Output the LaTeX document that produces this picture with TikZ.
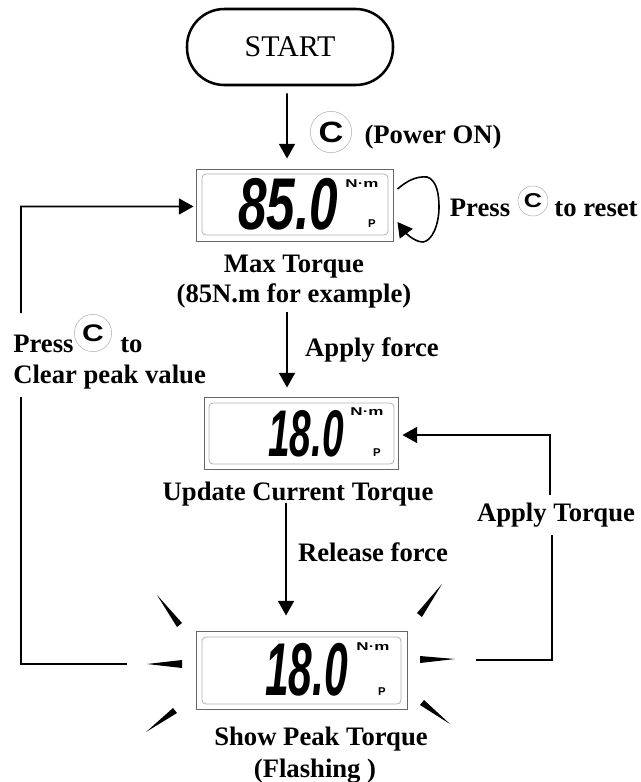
\documentclass[tikz,border=0pt]{standalone}
\usepackage{fontspec}
\setmainfont{Liberation Serif}
\newfontfamily\lcdfont{Liberation Sans}
\usetikzlibrary{arrows.meta}

\begin{document}
\begin{tikzpicture}[x=0.75pt, y=-0.75pt, >={Triangle[length=11pt, width=12pt]},
	every node/.style={inner sep=0pt},
	line/.style={line width=1.2pt},
	lab/.style={font=\bfseries\fontsize{20}{23}\selectfont, anchor=base},
	lcd/.style={draw=black!60, line width=0.7pt, fill=white},
	lcdin/.style={draw=black!30, line width=0.6pt, rounded corners=3pt},
	digits/.style={font=\lcdfont\bfseries\itshape\fontsize{55}{55}\selectfont},
	unit/.style={font=\lcdfont\bfseries\fontsize{8.5}{10}\selectfont},
	btn/.style={circle, draw=black!30, line width=0.4pt, fill=white},
	ray/.style={fill=black, draw=none}]
	\useasboundingbox (0,0) rectangle (640,782);
	% start
	\node[draw, line width=1.9pt, rounded corners=28pt, minimum width=154.5pt, minimum height=57pt, font=\fontsize{22.5}{26}\selectfont] (start) at (290,47) {START};
	% first display
	\node[lcd, minimum width=147.75pt, minimum height=54pt] (dispa) at (294.5,205) {};
	\draw[lcdin] (202,174) rectangle (388,235);
	\node[digits] (valuea) at (288,204.5) {\scalebox{0.7}[1]{85.0}};
	\node[unit] (unita) at (362,184) {\scalebox{1.5}[1]{N·m}};
	\node[unit] (pa) at (372,224) {P};
	% second display
	\node[lcd, minimum width=145.5pt, minimum height=54pt] (dispb) at (301,433) {};
	\draw[lcdin] (209,403) rectangle (394,464);
	\node[digits] (valueb) at (306,433.5) {\scalebox{0.53}[0.9]{18.0}};
	\node[unit] (unitb) at (367,412) {\scalebox{1.5}[1]{N·m}};
	\node[unit] (pb) at (377,453) {P};
	% third display
	\node[lcd, minimum width=158.25pt, minimum height=58.5pt] (dispc) at (301.5,670) {};
	\draw[lcdin] (202,637) rectangle (401,704);
	\node[digits] (valuec) at (306.5,670) {\scalebox{0.58}[1.02]{18.0}};
	\node[unit] (unitc) at (373,647) {\scalebox{1.5}[1]{N·m}};
	\node[unit] (pc) at (382,692) {P};
	% labels
	\node[lab] (maxlab) at (294,272) {Max Torque};
	\node[lab] (exlab) at (294,302) {(85N.m for example)};
	\node[lab] (updlab) at (298,500) {Update Current Torque};
	\node[lab] (peaklab) at (321,745) {Show Peak Torque};
	\node[lab] (flashlab) at (315,777) {(Flashing )};
	\node[lab] (forcea) at (372,356) {Apply force};
	\node[lab] (forceb) at (373,561) {Release force};
	\node[lab] (torquelab) at (556,521) {Apply Torque};
	\node[lab] (poweron) at (433,143) {(Power ON)};
	\node[btn, minimum size=31pt] (btna) at (331,132) {\lcdfont\bfseries\fontsize{22}{22}\selectfont\scalebox{1.17}[1]{C}};
	\node[lab] (pressa) at (480,216) {Press};
	\node[btn, minimum size=22.5pt] (btnb) at (533,201) {\lcdfont\bfseries\fontsize{15}{15}\selectfont\scalebox{1.25}[1]{C}};
	\node[lab] (reseta) at (596,216) {to reset};
	\node[lab, anchor=base west] (pressb) at (13,352) {Press};
	\node[lab, anchor=base west] (tolab) at (120,352) {to};
	\node[lab, anchor=base west] (clearlab) at (13,383) {Clear peak value};
	\node[btn, minimum size=28pt] (btnc) at (93,333) {\lcdfont\bfseries\fontsize{18}{18}\selectfont\scalebox{1.25}[1]{C}};
	% connectors
	\coordinate (cleft) at (127,664);
	\coordinate (cright) at (476,660);
	\coordinate (forcetop) at (287,312);
	\coordinate (releasetop) at (286,503);
	\coordinate (leftlow) at (21,397);
	\coordinate (lefthigh) at (21,313);
	\coordinate (rightlow) at (552,535);
	\coordinate (righthigh) at (550,495);
	\draw[line, ->] ([xshift=-2.25pt, yshift=-5.25pt]start.south) -- ([xshift=-5.6pt, yshift=7.5pt]dispa.north);
	\draw[line, ->] (forcetop) -- ([xshift=-10.5pt, yshift=6.75pt]dispb.north);
	\draw[line, ->] (releasetop) -- ([xshift=-11.6pt, yshift=11.25pt]dispc.north);
	\draw[line] (cleft) -- (21,664) -- (leftlow);
	\draw[line, ->] (lefthigh) -- (21,206.5) -- ([xshift=-1.5pt, yshift=-1.1pt]dispa.west);
	\draw[line] (cright) -- (552,660) -- (rightlow);
	\draw[line, ->] (righthigh) -- (550,435) -- ([xshift=3pt, yshift=-1.5pt]dispb.east);
	\draw[line, ->] ([xshift=3pt, yshift=12pt]dispa.east) .. controls (407,181) and (416,176) .. (427,177) .. controls (437,180) and (439,195) .. (439,207) .. controls (439,225) and (432,241) .. (423,242) .. controls (414,242) and (405,232) .. ([xshift=3pt, yshift=-12.75pt]dispa.east);
	% flashing rays
	\fill[ray] (157,595) -- (182,623) -- (177,627) -- cycle;
	\fill[ray] (442,584) -- (417,613) -- (422,617) -- cycle;
	\fill[ray] (147,664) -- (182,660) -- (182,668) -- cycle;
	\fill[ray] (455,659) -- (420,656) -- (420,663) -- cycle;
	\fill[ray] (146,732) -- (173,708) -- (177,713) -- cycle;
	\fill[ray] (450,724) -- (424,700) -- (420,705) -- cycle;
\end{tikzpicture}
\end{document}
